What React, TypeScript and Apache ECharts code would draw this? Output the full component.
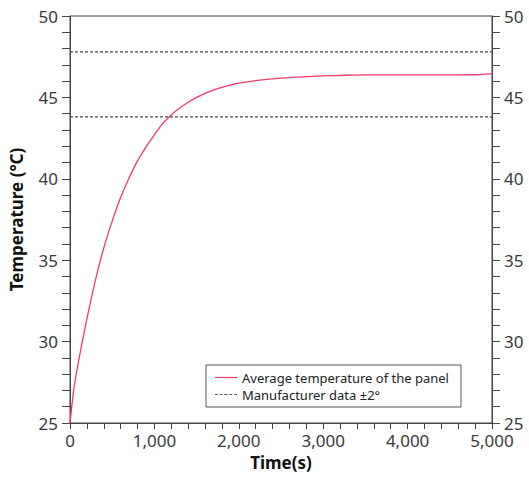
import React, { useEffect, useRef } from "react";
import * as echarts from "echarts";

const timeS: number[] = [0, 50, 100, 150, 200, 300, 400, 500, 600, 700, 800, 900, 1000, 1100, 1200, 1300, 1400, 1500, 1600, 1700, 1800, 1900, 2000, 2250, 2500, 2750, 3000, 3250, 3500, 3750, 4000, 4250, 4500, 4750, 5000];
const avgTemp: number[] = [25, 27.25, 28.75, 30.1, 31.4, 33.75, 35.75, 37.4, 38.85, 40.05, 41.1, 41.95, 42.7, 43.4, 43.92, 44.35, 44.7, 45.0, 45.25, 45.45, 45.62, 45.76, 45.88, 46.06, 46.18, 46.26, 46.32, 46.36, 46.38, 46.38, 46.38, 46.38, 46.38, 46.39, 46.45];
const upperBound: number = 47.8;
const lowerBound: number = 43.8;
const xRange: number[] = [0, 5000];

const FONT = "Noto Sans";
const LINE_ICON = "path://M0,0h24v1.3h-24z";
const DASH_ICON = "path://M0,0h3v1.2h-3z M5,0h3v1.2h-3z M10,0h3v1.2h-3z M15,0h3v1.2h-3z M20,0h3v1.2h-3z";

export default function App() {
  const ref = useRef<HTMLDivElement>(null);
  useEffect(() => {
    if (!ref.current) return;
    const chart = echarts.init(ref.current, undefined, { renderer: "svg" });
    const axisCommon = {
      min: 25,
      max: 50,
      interval: 5,
      axisLine: { show: true, lineStyle: { color: "#444", width: 1 } },
      axisTick: { show: true, inside: false, length: 8, lineStyle: { color: "#444" } },
      minorTick: { show: true, splitNumber: 5, length: 8, lineStyle: { color: "#444" } },
      splitLine: { show: false },
      axisLabel: { fontSize: 17, color: "#3a3a3a", fontFamily: FONT, margin: 12 },
    };
    chart.setOption({
      animation: false,
      backgroundColor: "#fff",
      grid: { left: 67, right: 37, top: 16, bottom: 54, show: true, borderColor: "#444", borderWidth: 1, backgroundColor: "transparent" },
      xAxis: {
        type: "value",
        min: xRange[0],
        max: xRange[1],
        interval: 1000,
        axisLine: { show: true, lineStyle: { color: "#444" } },
        axisTick: { show: true, inside: false, length: 6, lineStyle: { color: "#444" } },
        minorTick: { show: true, splitNumber: 5, length: 6, lineStyle: { color: "#444" } },
        splitLine: { show: false },
        axisLabel: {
          fontSize: 17,
          color: "#3a3a3a",
          fontFamily: FONT,
          margin: 9,
          formatter: (v: number) => v.toLocaleString("en-US"),
        },
        name: "Time(s)",
        nameLocation: "middle",
        nameGap: 31,
        nameTextStyle: { fontSize: 17, fontWeight: "bold", color: "#111", fontFamily: FONT },
      },
      yAxis: [
        {
          type: "value",
          position: "left",
          ...axisCommon,
          name: "Temperature (°C)",
          nameLocation: "middle",
          nameGap: 45,
          nameTextStyle: { fontSize: 17, fontWeight: "bold", color: "#111", fontFamily: FONT },
        },
        {
          type: "value",
          position: "right",
          ...axisCommon,
        },
      ],
      legend: {
        left: 206,
        top: 365,
        orient: "vertical",
        backgroundColor: "#fff",
        borderColor: "#555",
        borderWidth: 1,
        borderRadius: 0,
        padding: [6, 12, 6, 9],
        itemGap: 4,
        itemWidth: 22,
        itemHeight: 10,
        textStyle: { fontSize: 13, color: "#222", fontFamily: FONT },
        data: [
          { name: "Average temperature of the panel", icon: LINE_ICON, itemStyle: { color: "#f23a68" } },
          { name: "Manufacturer data ±2°", icon: DASH_ICON, itemStyle: { color: "#555" } },
        ],
      },
      series: [
        {
          name: "Average temperature of the panel",
          type: "line",
          data: timeS.map((t, i) => [t, avgTemp[i]]),
          showSymbol: false,
          symbol: "none",
          smooth: 0.3,
          lineStyle: { color: "#f23a68", width: 1.3 },
          itemStyle: { color: "#f23a68" },
          z: 3,
        },
        {
          name: "Manufacturer data ±2°",
          type: "line",
          data: [[xRange[0], upperBound], [xRange[1], upperBound]],
          showSymbol: false,
          symbol: "none",
          lineStyle: { color: "#444", width: 1.2, type: [3, 2] },
          itemStyle: { color: "#555" },
        },
        {
          name: "Manufacturer data ±2°",
          type: "line",
          data: [[xRange[0], lowerBound], [xRange[1], lowerBound]],
          showSymbol: false,
          symbol: "none",
          lineStyle: { color: "#444", width: 1.2, type: [3, 2] },
          itemStyle: { color: "#555" },
        },
      ],
    });
    return () => chart.dispose();
  }, []);
  return (
    <div
      ref={ref}
      style={{ position: "fixed", left: 0, top: 0, width: 529, height: 477, background: "#fff" }}
    />
  );
}
